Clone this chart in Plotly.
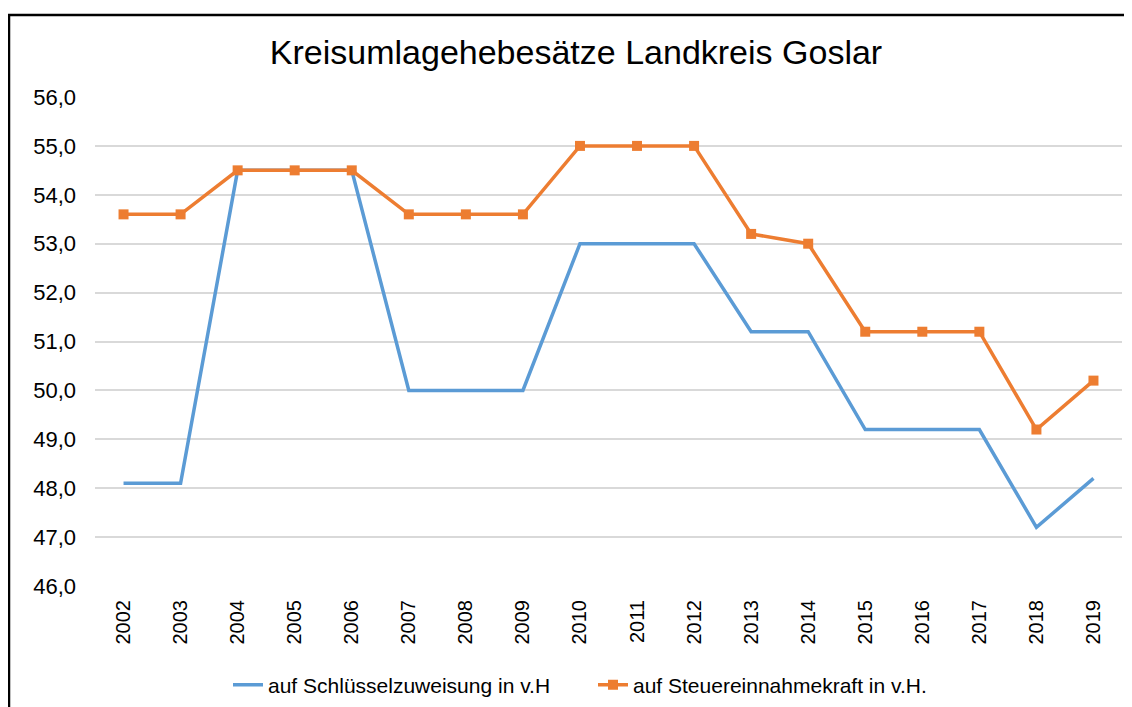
import plotly.graph_objects as go

years = [str(y) for y in range(2002, 2020)]
schluessel = [48.1, 48.1, 54.5, 54.5, 54.5, 50.0, 50.0, 50.0, 53.0, 53.0, 53.0, 51.2, 51.2, 49.2, 49.2, 49.2, 47.2, 48.2]
steuer = [53.6, 53.6, 54.5, 54.5, 54.5, 53.6, 53.6, 53.6, 55.0, 55.0, 55.0, 53.2, 53.0, 51.2, 51.2, 51.2, 49.2, 50.2]
y_ticks = [46, 47, 48, 49, 50, 51, 52, 53, 54, 55, 56]

FONT = "Liberation Sans, Arial, sans-serif"

fig = go.Figure()
fig.add_trace(go.Scatter(
    x=years, y=schluessel, mode="lines", name="auf Schlüsselzuweisung in v.H",
    line=dict(color="#5B9BD5", width=3.5),
))
fig.add_trace(go.Scatter(
    x=years, y=steuer, mode="lines+markers", name="auf Steuereinnahmekraft in v.H.",
    line=dict(color="#ED7D31", width=3.5),
    marker=dict(symbol="square", size=10, color="#ED7D31"),
))

# page body has an 8px offset; all screen coordinates below are shifted by it
OFF = 8
W, H = 1132, 707
L, R, T, B = 95 - OFF, 10 + OFF, 97 - OFF, 121 + OFF
pw, ph = W - L - R, H - T - B

def px(x):
    return (x - OFF - L) / pw

def py(y):
    return (H - B - (y - OFF)) / ph

fig.update_layout(
    width=W, height=H,
    margin=dict(l=L, r=R, t=T, b=B, autoexpand=False),
    paper_bgcolor="white", plot_bgcolor="white",
    separators=",.",
    font=dict(family=FONT, color="#000000"),
    title=dict(text="Kreisumlagehebesätze Landkreis Goslar", x=(576 - OFF) / W, xanchor="center",
               y=1 - (52 - OFF) / H, yanchor="middle", font=dict(size=34, color="#000000", family=FONT)),
    xaxis=dict(type="category", range=[-0.5, 17.5], tickangle=-90, showgrid=False,
               showline=False, ticks="", tickfont=dict(size=20, color="#000000"),
               ticklabelstandoff=9),
    yaxis=dict(range=[46, 56], tickvals=y_ticks, tickformat=".1f", showgrid=True,
               gridcolor="#D9D9D9", gridwidth=1.5, zeroline=False, showline=False, ticks="",
               tickfont=dict(size=22, color="#000000"), ticklabelstandoff=18),
    legend=dict(orientation="h", x=px(228), xanchor="left", y=py(685), yanchor="middle",
                font=dict(size=21, color="#000000"), itemwidth=30, entrywidth=320,
                tracegroupgap=0),
    showlegend=True,
)

fig.add_shape(type="rect", xref="paper", yref="paper",
              x0=px(9), x1=px(1250), y0=py(850), y1=py(15),
              line=dict(color="black", width=2.5), fillcolor="rgba(0,0,0,0)", layer="below")

fig.write_html("out.html")
